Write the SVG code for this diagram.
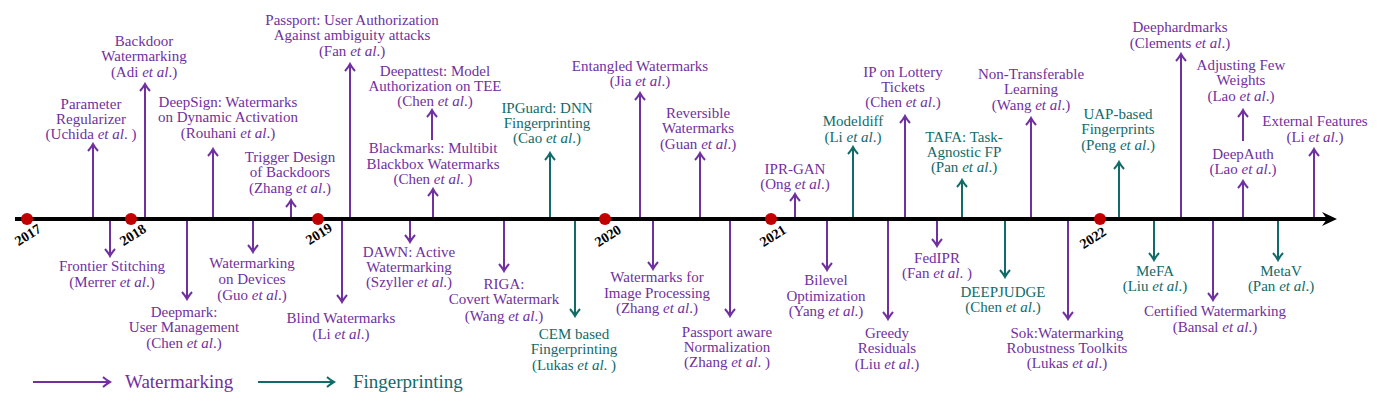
<svg xmlns="http://www.w3.org/2000/svg" width="1395" height="405" viewBox="0 0 1395 405">
<style>
text{font-family:"Liberation Serif","Times New Roman",serif;font-size:15px;text-anchor:middle}
.w{fill:#7030A0}
.f{fill:#116B68}
.i{font-style:italic}
.yr{font-size:14px;font-weight:bold;fill:#000;dominant-baseline:central}
.lw{stroke:#7030A0;stroke-width:2;fill:none;marker-end:url(#aw)}
.lf{stroke:#116B68;stroke-width:2;fill:none;marker-end:url(#af)}
.leg{font-size:19px;text-anchor:start}
</style>
<defs>
<marker id="aw" viewBox="-10 -7 12 14" refX="0" refY="0" markerWidth="12" markerHeight="14" orient="auto" markerUnits="userSpaceOnUse">
<path d="M-7,-5 Q-3,-1.5 0,0 Q-3,1.5 -7,5" fill="none" stroke="#7030A0" stroke-width="2"/>
</marker>
<marker id="af" viewBox="-10 -7 12 14" refX="0" refY="0" markerWidth="12" markerHeight="14" orient="auto" markerUnits="userSpaceOnUse">
<path d="M-7,-5 Q-3,-1.5 0,0 Q-3,1.5 -7,5" fill="none" stroke="#116B68" stroke-width="2"/>
</marker>
</defs>
<rect width="1395" height="405" fill="#fff"/>

<g id="connectors">
<line class="lw" x1="93" y1="217" x2="93" y2="144"/>
<line class="lw" x1="145" y1="217" x2="145" y2="84"/>
<line class="lw" x1="213" y1="217" x2="213" y2="149"/>
<line class="lw" x1="291" y1="217" x2="291" y2="200"/>
<line class="lw" x1="350" y1="217" x2="350" y2="64"/>
<line class="lw" x1="433" y1="217" x2="433" y2="189"/>
<line class="lw" x1="432" y1="140" x2="432" y2="110"/>
<line class="lf" x1="550" y1="217" x2="550" y2="153"/>
<line class="lw" x1="640" y1="217" x2="640" y2="93"/>
<line class="lw" x1="700" y1="217" x2="700" y2="153"/>
<line class="lw" x1="795" y1="217" x2="795" y2="194"/>
<line class="lf" x1="853" y1="217" x2="853" y2="147"/>
<line class="lw" x1="905" y1="217" x2="905" y2="116"/>
<line class="lf" x1="962" y1="217" x2="962" y2="180"/>
<line class="lw" x1="1031" y1="217" x2="1031" y2="118"/>
<line class="lf" x1="1119" y1="217" x2="1119" y2="162"/>
<line class="lw" x1="1181" y1="217" x2="1181" y2="54"/>
<line class="lw" x1="1243" y1="217" x2="1243" y2="181"/>
<line class="lw" x1="1243" y1="141" x2="1243" y2="110"/>
<line class="lw" x1="1314" y1="217" x2="1314" y2="149"/>

<line class="lw" x1="110" y1="221" x2="110" y2="256"/>
<line class="lw" x1="187" y1="221" x2="187" y2="299"/>
<line class="lw" x1="253" y1="221" x2="253" y2="252"/>
<line class="lw" x1="342" y1="221" x2="342" y2="302"/>
<line class="lw" x1="410" y1="221" x2="410" y2="242"/>
<line class="lw" x1="504" y1="221" x2="504" y2="271"/>
<line class="lf" x1="575" y1="221" x2="575" y2="316"/>
<line class="lw" x1="653" y1="221" x2="653" y2="269"/>
<line class="lw" x1="730" y1="221" x2="730" y2="316"/>
<line class="lw" x1="827" y1="221" x2="827" y2="270"/>
<line class="lw" x1="888" y1="221" x2="888" y2="319"/>
<line class="lw" x1="937" y1="221" x2="937" y2="246"/>
<line class="lf" x1="1005" y1="221" x2="1005" y2="277"/>
<line class="lw" x1="1068" y1="221" x2="1068" y2="319"/>
<line class="lf" x1="1154" y1="221" x2="1154" y2="260"/>
<line class="lw" x1="1213" y1="221" x2="1213" y2="300"/>
<line class="lf" x1="1278" y1="221" x2="1278" y2="260"/>
</g>

<g id="timeline">
<line x1="15" y1="219" x2="1327" y2="219" stroke="#000" stroke-width="4"/>
<path d="M1337,219 L1322,212 L1327,219 L1322,226 Z" fill="#000"/>
<g fill="#C00000">
<circle cx="27" cy="219" r="6"/>
<circle cx="131" cy="219" r="6"/>
<circle cx="318" cy="219" r="6"/>
<circle cx="605" cy="219" r="6"/>
<circle cx="771" cy="219" r="6"/>
<circle cx="1100" cy="219" r="6"/>
</g>
<text class="yr" transform="translate(28,235) rotate(-32)">2017</text>
<text class="yr" transform="translate(133,235) rotate(-32)">2018</text>
<text class="yr" transform="translate(319,234) rotate(-32)">2019</text>
<text class="yr" transform="translate(608,236) rotate(-32)">2020</text>
<text class="yr" transform="translate(773,236) rotate(-32)">2021</text>
<text class="yr" transform="translate(1093,238) rotate(-32)">2022</text>
</g>

<g id="n-uchida"><text class="w" x="91" y="109">Parameter</text><text class="w" x="91" y="124">Regularizer</text><text class="w" x="91" y="139">(Uchida <tspan class="i">et al</tspan>. )</text></g>
<g id="n-adi"><text class="w" x="144" y="46">Backdoor</text><text class="w" x="144" y="61">Watermarking</text><text class="w" x="144" y="77">(Adi <tspan class="i">et al</tspan>.)</text></g>
<g id="n-rouhani"><text class="w" x="228" y="107">DeepSign: Watermarks</text><text class="w" x="228" y="122">on Dynamic Activation</text><text class="w" x="228" y="138">(Rouhani <tspan class="i">et al</tspan>.)</text></g>
<g id="n-zhang-trigger"><text class="w" x="290" y="162">Trigger Design</text><text class="w" x="290" y="177">of Backdoors</text><text class="w" x="290" y="193">(Zhang <tspan class="i">et al</tspan>.)</text></g>
<g id="n-fan-passport"><text class="w" x="352" y="25">Passport: User Authorization</text><text class="w" x="352" y="40">Against ambiguity attacks</text><text class="w" x="352" y="56">(Fan <tspan class="i">et al</tspan>.)</text></g>
<g id="n-blackmarks"><text class="w" x="433" y="153">Blackmarks: Multibit</text><text class="w" x="433" y="169">Blackbox Watermarks</text><text class="w" x="433" y="184">(Chen <tspan class="i">et al</tspan>. )</text></g>
<g id="n-deepattest"><text class="w" x="435" y="76">Deepattest: Model</text><text class="w" x="435" y="91">Authorization on TEE</text><text class="w" x="435" y="106">(Chen <tspan class="i">et al</tspan>.)</text></g>
<g id="n-ipguard"><text class="f" x="547" y="113">IPGuard: DNN</text><text class="f" x="547" y="128">Fingerprinting</text><text class="f" x="547" y="143">(Cao <tspan class="i">et al</tspan>.)</text></g>
<g id="n-entangled"><text class="w" x="640" y="71">Entangled Watermarks</text><text class="w" x="640" y="86">(Jia <tspan class="i">et al</tspan>.)</text></g>
<g id="n-reversible"><text class="w" x="698" y="118">Reversible</text><text class="w" x="698" y="133">Watermarks</text><text class="w" x="698" y="149">(Guan <tspan class="i">et al</tspan>.)</text></g>
<g id="n-iprgan"><text class="w" x="795" y="174">IPR-GAN</text><text class="w" x="795" y="189">(Ong <tspan class="i">et al</tspan>.)</text></g>
<g id="n-modeldiff"><text class="f" x="853" y="126">Modeldiff</text><text class="f" x="853" y="142">(Li <tspan class="i">et al</tspan>.)</text></g>
<g id="n-lottery"><text class="w" x="903" y="77">IP on Lottery</text><text class="w" x="903" y="92">Tickets</text><text class="w" x="903" y="107">(Chen <tspan class="i">et al</tspan>.)</text></g>
<g id="n-tafa"><text class="f" x="964" y="142">TAFA: Task-</text><text class="f" x="964" y="157">Agnostic FP</text><text class="f" x="964" y="172">(Pan <tspan class="i">et al</tspan>.)</text></g>
<g id="n-nontransfer"><text class="w" x="1031" y="79">Non-Transferable</text><text class="w" x="1031" y="94">Learning</text><text class="w" x="1031" y="110">(Wang <tspan class="i">et al</tspan>.)</text></g>
<g id="n-uap"><text class="f" x="1118" y="119">UAP-based</text><text class="f" x="1118" y="134">Fingerprints</text><text class="f" x="1118" y="150">(Peng <tspan class="i">et al</tspan>.)</text></g>
<g id="n-deephardmarks"><text class="w" x="1180" y="32">Deephardmarks</text><text class="w" x="1180" y="48">(Clements <tspan class="i">et al</tspan>.)</text></g>
<g id="n-deepauth"><text class="w" x="1243" y="159">DeepAuth</text><text class="w" x="1243" y="174">(Lao <tspan class="i">et al</tspan>.)</text></g>
<g id="n-adjusting"><text class="w" x="1241" y="70">Adjusting Few</text><text class="w" x="1241" y="85">Weights</text><text class="w" x="1241" y="101">(Lao <tspan class="i">et al</tspan>.)</text></g>
<g id="n-external"><text class="w" x="1315" y="126">External Features</text><text class="w" x="1315" y="142">(Li <tspan class="i">et al</tspan>.)</text></g>

<g id="n-frontier"><text class="w" x="112" y="271">Frontier Stitching</text><text class="w" x="112" y="287">(Merrer <tspan class="i">et al</tspan>.)</text></g>
<g id="n-deepmark"><text class="w" x="184" y="317">Deepmark:</text><text class="w" x="184" y="332">User Management</text><text class="w" x="184" y="348">(Chen <tspan class="i">et al</tspan>.)</text></g>
<g id="n-devices"><text class="w" x="252" y="268">Watermarking</text><text class="w" x="252" y="284">on Devices</text><text class="w" x="252" y="300">(Guo <tspan class="i">et al</tspan>.)</text></g>
<g id="n-blind"><text class="w" x="341" y="323">Blind Watermarks</text><text class="w" x="341" y="339">(Li <tspan class="i">et al</tspan>.)</text></g>
<g id="n-dawn"><text class="w" x="409" y="257">DAWN: Active</text><text class="w" x="409" y="272">Watermarking</text><text class="w" x="409" y="287">(Szyller <tspan class="i">et al</tspan>.)</text></g>
<g id="n-riga"><text class="w" x="504" y="289">RIGA:</text><text class="w" x="504" y="304">Covert Watermark</text><text class="w" x="504" y="321">(Wang <tspan class="i">et al</tspan>.)</text></g>
<g id="n-cem"><text class="f" x="574" y="339">CEM based</text><text class="f" x="574" y="354">Fingerprinting</text><text class="f" x="574" y="370">(Lukas <tspan class="i">et al</tspan>. )</text></g>
<g id="n-imageproc"><text class="w" x="657" y="282">Watermarks for</text><text class="w" x="657" y="298">Image Processing</text><text class="w" x="657" y="313">(Zhang <tspan class="i">et al</tspan>.)</text></g>
<g id="n-passportnorm"><text class="w" x="727" y="337">Passport aware</text><text class="w" x="727" y="352">Normalization</text><text class="w" x="727" y="367">(Zhang <tspan class="i">et al</tspan>. )</text></g>
<g id="n-bilevel"><text class="w" x="826" y="285">Bilevel</text><text class="w" x="826" y="301">Optimization</text><text class="w" x="826" y="316">(Yang <tspan class="i">et al</tspan>.)</text></g>
<g id="n-greedy"><text class="w" x="887" y="338">Greedy</text><text class="w" x="887" y="353">Residuals</text><text class="w" x="887" y="369">(Liu <tspan class="i">et al</tspan>.)</text></g>
<g id="n-fedipr"><text class="w" x="937" y="263">FedIPR</text><text class="w" x="937" y="278">(Fan <tspan class="i">et al</tspan>. )</text></g>
<g id="n-deepjudge"><text class="f" x="1003" y="297">DEEPJUDGE</text><text class="f" x="1003" y="312">(Chen <tspan class="i">et al</tspan>.)</text></g>
<g id="n-sok"><text class="w" x="1067" y="338">Sok:Watermarking</text><text class="w" x="1067" y="353">Robustness Toolkits</text><text class="w" x="1067" y="368">(Lukas <tspan class="i">et al</tspan>.)</text></g>
<g id="n-mefa"><text class="f" x="1155" y="276">MeFA</text><text class="f" x="1155" y="291">(Liu <tspan class="i">et al</tspan>.)</text></g>
<g id="n-certified"><text class="w" x="1215" y="316">Certified Watermarking</text><text class="w" x="1215" y="332">(Bansal <tspan class="i">et al</tspan>.)</text></g>
<g id="n-metav"><text class="f" x="1281" y="276">MetaV</text><text class="f" x="1281" y="291">(Pan <tspan class="i">et al</tspan>.)</text></g>

<g id="legend">
<line class="lw" x1="33" y1="382" x2="110" y2="382"/>
<text class="w leg" x="125" y="388">Watermarking</text>
<line class="lf" x1="258" y1="382" x2="334" y2="382"/>
<text class="f leg" x="353" y="388">Fingerprinting</text>
</g>
</svg>
